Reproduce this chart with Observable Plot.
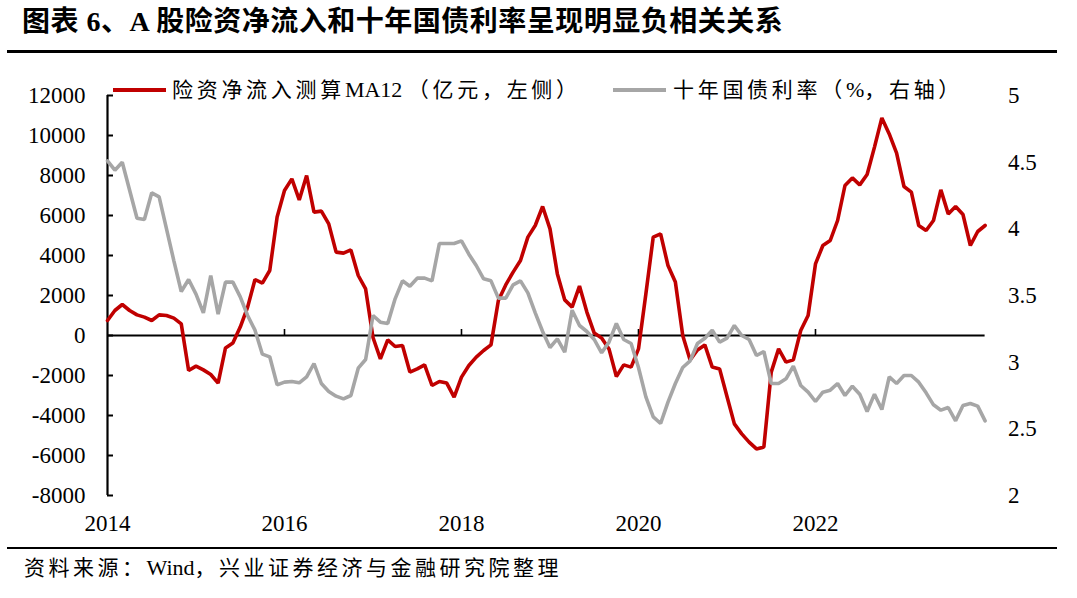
<!DOCTYPE html>
<html><head><meta charset="utf-8">
<script src="https://cdn.jsdelivr.net/npm/d3@7"></script>
<script src="https://cdn.jsdelivr.net/npm/@observablehq/plot@0.6"></script>
<style>
body{margin:0;background:#fff;}
#wrap{position:relative;width:1077px;height:598px;overflow:hidden;font-family:"Liberation Serif","Noto Sans CJK SC",serif;color:#000;}
#title{position:absolute;left:22px;top:4px;line-height:36px;font-size:28px;font-weight:bold;letter-spacing:0.5px;white-space:nowrap;}
#tline{position:absolute;left:7px;width:1050px;top:50px;height:3px;background:#000;}
#chart{position:absolute;left:0;top:60px;}
#chart svg{overflow:visible;}
.leg{position:absolute;top:76px;height:28px;line-height:28px;white-space:nowrap;font-size:21px;letter-spacing:3.7px;}
.lat{letter-spacing:0;font-size:22px;}
.sw{position:absolute;top:12px;height:4px;width:53px;}
#bline{position:absolute;left:7px;width:1050px;top:547px;height:2px;background:#000;}
#caption{position:absolute;left:24px;top:554px;line-height:28px;font-size:21px;letter-spacing:3.5px;white-space:nowrap;}
</style>
</head><body>
<div id="wrap">
  <div id="title">图表 6、A 股险资净流入和十年国债利率呈现明显负相关关系</div>
  <div id="tline"></div>
  <div id="chart"></div>
  <div class="sw" style="left:113px;top:88px;background:#C00000"></div>
  <div class="leg" style="left:172px">险资净流入测算<span class="lat">MA12 </span>（亿元，左侧）</div>
  <div class="sw" style="left:613px;top:88px;background:#A6A6A6"></div>
  <div class="leg" style="left:673px">十年国债利率（<span class="lat">%</span>，右轴）</div>
  <div id="bline"></div>
  <div id="caption">资料来源：<span class="lat">Wind</span>，兴业证券经济与金融研究院整理</div>
</div>
<script>
// Monthly data, Jan 2014 – Dec 2023
const startYear = 2014;
const inflowMA12 = [
  750,1250,1550,1250,1030,920,750,1030,1000,870,580,-1750,
  -1530,-1720,-1950,-2380,-620,-380,420,1420,2800,2620,3250,5920,
  7250,7830,6780,8000,6170,6220,5580,4170,4120,4280,3000,2330,
  -100,-1170,-220,-550,-500,-1830,-1670,-1470,-2500,-2300,-2380,-3080,
  -2080,-1500,-1080,-750,-470,1750,2530,3170,3750,4920,5500,6450,
  5330,3080,1780,1420,2470,1170,120,-120,-670,-2050,-1470,-1580,
  -670,2080,4920,5080,3500,2670,0,-1220,-720,-470,-1580,-1670,
  -3050,-4420,-4920,-5330,-5670,-5580,-1830,-670,-1330,-1220,250,1000,
  3580,4500,4750,5750,7500,7880,7530,8050,9420,10880,10080,9120,
  7450,7170,5500,5250,5750,7280,6080,6450,6050,4500,5200,5500
];
const bondYield10Y = [
  4.51,4.44,4.50,4.29,4.08,4.07,4.27,4.24,4.00,3.76,3.53,3.62,
  3.51,3.37,3.65,3.36,3.60,3.60,3.49,3.35,3.24,3.06,3.04,2.83,
  2.85,2.855,2.845,2.89,2.99,2.84,2.78,2.745,2.725,2.75,2.955,3.02,
  3.35,3.30,3.29,3.475,3.61,3.57,3.63,3.63,3.61,3.89,3.89,3.89,
  3.91,3.81,3.725,3.625,3.61,3.48,3.48,3.58,3.61,3.52,3.37,3.23,
  3.11,3.175,3.075,3.39,3.275,3.23,3.17,3.07,3.15,3.29,3.17,3.14,
  2.96,2.74,2.59,2.54,2.70,2.84,2.96,3.01,3.14,3.18,3.24,3.15,
  3.18,3.275,3.20,3.17,3.05,3.08,2.84,2.84,2.875,2.97,2.825,2.775,
  2.705,2.775,2.79,2.84,2.75,2.82,2.76,2.63,2.76,2.645,2.89,2.84,
  2.90,2.90,2.85,2.77,2.68,2.64,2.66,2.56,2.675,2.69,2.67,2.56
];
const leftTicks = [-8000,-6000,-4000,-2000,0,2000,4000,6000,8000,10000,12000];
const rightTicks = [2,2.5,3,3.5,4,4.5,5];
const xTicks = [2014,2016,2018,2020,2022];

const leftDomain = [-8000, 12000];
const rightDomain = [2, 5];
const toLeft = r => (r - rightDomain[0]) / (rightDomain[1] - rightDomain[0]) * (leftDomain[1] - leftDomain[0]) + leftDomain[0];
const fromLeft = v => (v - leftDomain[0]) / (leftDomain[1] - leftDomain[0]) * (rightDomain[1] - rightDomain[0]) + rightDomain[0];

const rows = inflowMA12.map((v, i) => ({t: startYear + i / 12, inflow: v, yld: bondYield10Y[i]}));

const chart = Plot.plot({
  width: 1077, height: 480,
  marginLeft: 107, marginRight: 92.4, marginTop: 35, marginBottom: 45,
  x: {domain: [startYear, startYear + (inflowMA12.length - 1) / 12], label: null},
  y: {domain: leftDomain, label: null},
  style: {fontFamily: "'Liberation Serif', serif", fontSize: "23px", color: "#000", background: "transparent"},
  marks: [
    Plot.ruleY([0], {stroke: "#000", strokeWidth: 2.2}),
    Plot.ruleX(xTicks.slice(1), {x: d => d, y1: 0, y2: 300, stroke: "#000", strokeWidth: 1.6}),
    Plot.ruleX([startYear], {stroke: "#000", strokeWidth: 2.2}),
    Plot.axisY({anchor: "left", label: null, ticks: leftTicks, tickSize: -6, tickPadding: 28, strokeWidth: 2, tickFormat: d => String(d)}),
    Plot.axisY({anchor: "right", label: null, ticks: rightTicks.map(toLeft), tickSize: 0, tickPadding: 23, tickFormat: d => String(Math.round(fromLeft(d) * 10) / 10)}),
    Plot.axisX({anchor: "bottom", label: null, ticks: xTicks, tickSize: 0, tickPadding: 19, tickFormat: d => String(d)}),
    Plot.line(rows, {x: "t", y: "inflow", stroke: "#C00000", strokeWidth: 3.6, strokeLinejoin: "miter"}),
    Plot.line(rows, {x: "t", y: d => toLeft(d.yld), stroke: "#A6A6A6", strokeWidth: 3.6, strokeLinejoin: "miter"})
  ]
});
document.getElementById("chart").appendChild(chart);
</script>
</body></html>
